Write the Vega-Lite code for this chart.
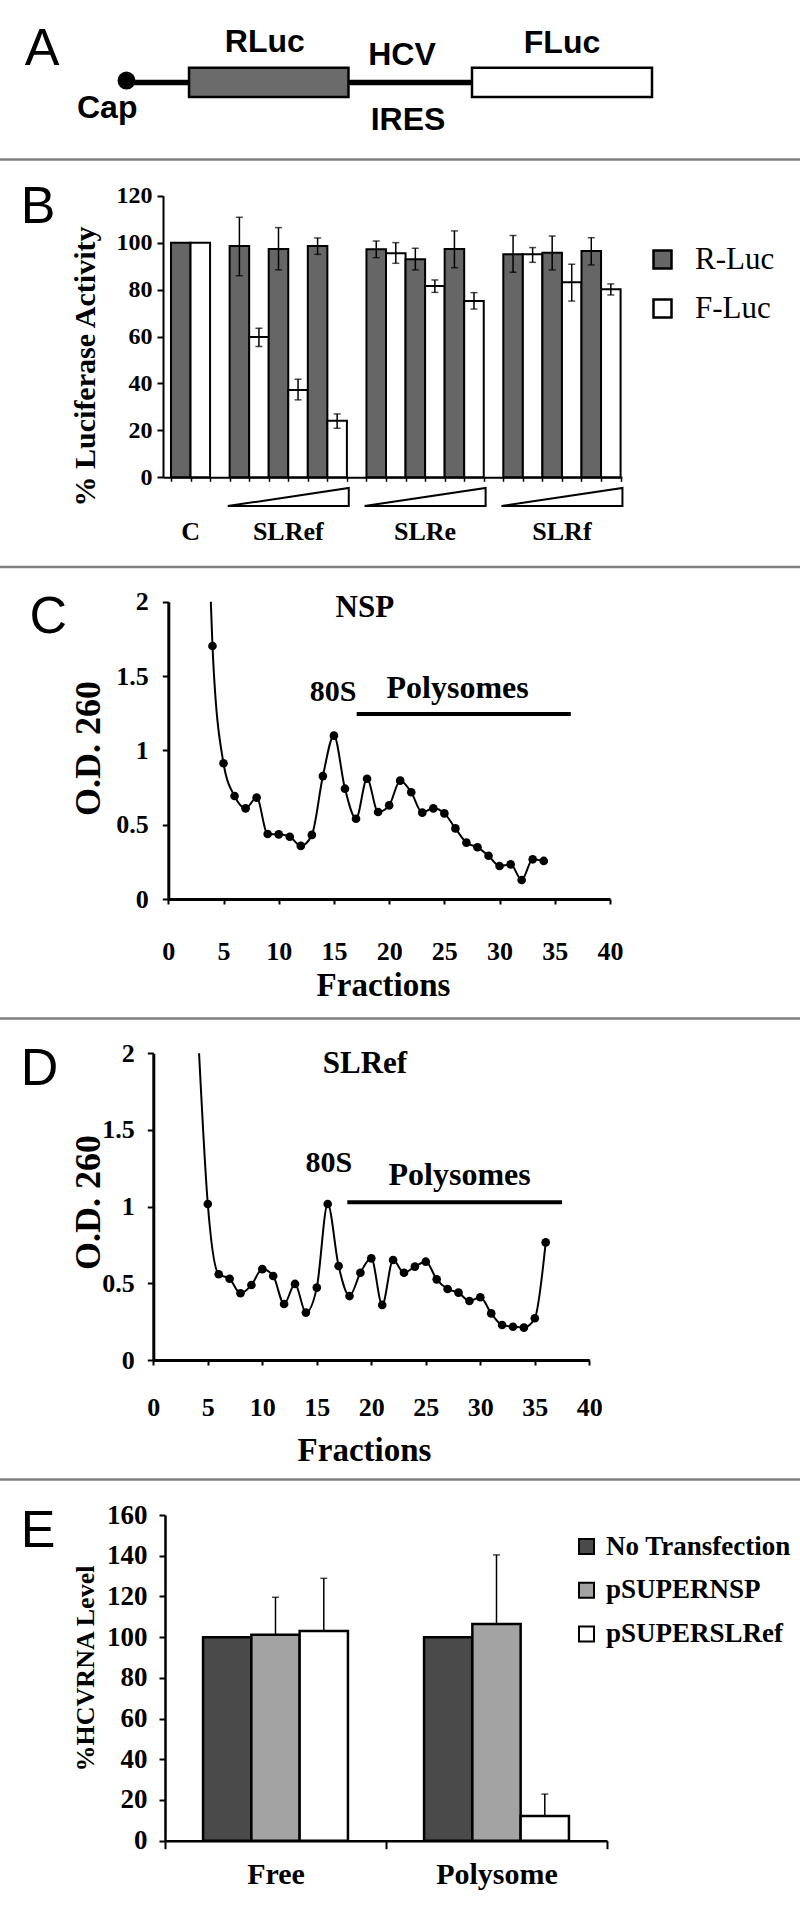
{
  "$schema": "https://vega.github.io/schema/vega-lite/v6.json",
  "width": 800,
  "height": 1918,
  "autosize": {"type": "none"},
  "padding": 0,
  "background": "white",
  "config": {
    "view": {"stroke": null},
    "axis": {"grid": false, "domainColor": "black", "tickColor": "black", "labelColor": "black", "titleColor": "black", "labelFont": "Liberation Serif", "titleFont": "Liberation Serif", "labelFontWeight": "bold", "titleFontWeight": "bold", "labelOverlap": false, "labelFlush": false},
    "legend": {"padding": 0, "offset": 0, "labelLimit": 0},
    "text": {"font": "Liberation Serif", "fontWeight": "bold", "color": "black"}
  },
  "resolve": {
    "scale": {"x": "independent", "y": "independent", "fill": "independent"},
    "axis": {"x": "independent", "y": "independent"},
    "legend": {"fill": "independent"}
  },
  "layer": [
    {
      "layer": [
        {
          "data": {"values": [{"segment": "5' cap", "start": 15.81, "end": 23.63}, {"segment": "HCV IRES", "start": 43.56, "end": 59.0}]},
          "mark": {"type": "rule", "color": "black", "strokeWidth": 5.5},
          "encoding": {
            "x": {"field": "start", "type": "quantitative", "scale": {"domain": [0, 100], "range": [0, 800]}, "axis": null},
            "x2": {"field": "end"},
            "y": {"datum": 4.3, "type": "quantitative", "scale": {"domain": [0, 100], "range": [0, 1918]}, "axis": null}
          }
        },
        {
          "data": {"values": [{"segment": "RLuc", "start": 23.63, "end": 43.56}, {"segment": "FLuc", "start": 59.0, "end": 81.5}]},
          "mark": {"type": "rect", "stroke": "black", "strokeWidth": 2.5},
          "encoding": {
            "x": {"field": "start", "type": "quantitative"},
            "x2": {"field": "end"},
            "y": {"datum": 3.53, "type": "quantitative"},
            "y2": {"datum": 5.06},
            "fill": {"field": "segment", "type": "nominal", "scale": {"domain": ["RLuc", "FLuc"], "range": ["#6b6b6b", "#ffffff"]}, "legend": null}
          }
        },
        {
          "data": {"values": [{}]},
          "mark": {"type": "point", "shape": "circle", "filled": true, "color": "black", "opacity": 1, "size": 320},
          "encoding": {"x": {"datum": 15.81, "type": "quantitative"}, "y": {"datum": 4.2, "type": "quantitative"}}
        },
        {
          "data": {"values": [{}]},
          "mark": {"type": "text", "text": "RLuc", "font": "Liberation Sans", "fontSize": 32, "fontWeight": "bold", "align": "center", "baseline": "alphabetic"},
          "encoding": {"x": {"datum": 33.1, "type": "quantitative"}, "y": {"datum": 2.711, "type": "quantitative"}}
        },
        {
          "data": {"values": [{}]},
          "mark": {"type": "text", "text": "HCV", "font": "Liberation Sans", "fontSize": 32, "fontWeight": "bold", "align": "center", "baseline": "alphabetic"},
          "encoding": {"x": {"datum": 50.25, "type": "quantitative"}, "y": {"datum": 3.389, "type": "quantitative"}}
        },
        {
          "data": {"values": [{}]},
          "mark": {"type": "text", "text": "FLuc", "font": "Liberation Sans", "fontSize": 32, "fontWeight": "bold", "align": "center", "baseline": "alphabetic"},
          "encoding": {"x": {"datum": 70.25, "type": "quantitative"}, "y": {"datum": 2.763, "type": "quantitative"}}
        },
        {
          "data": {"values": [{}]},
          "mark": {"type": "text", "text": "Cap", "font": "Liberation Sans", "fontSize": 32, "fontWeight": "bold", "align": "center", "baseline": "alphabetic"},
          "encoding": {"x": {"datum": 13.4, "type": "quantitative"}, "y": {"datum": 6.152, "type": "quantitative"}}
        },
        {
          "data": {"values": [{}]},
          "mark": {"type": "text", "text": "IRES", "font": "Liberation Sans", "fontSize": 32, "fontWeight": "bold", "align": "center", "baseline": "alphabetic"},
          "encoding": {"x": {"datum": 51.0, "type": "quantitative"}, "y": {"datum": 6.778, "type": "quantitative"}}
        },
        {
          "data": {"values": [{}]},
          "mark": {"type": "text", "text": "A", "font": "Liberation Sans", "fontSize": 52, "fontWeight": "normal", "align": "left", "baseline": "alphabetic"},
          "encoding": {"x": {"datum": 3.1, "type": "quantitative"}, "y": {"datum": 3.389, "type": "quantitative"}}
        },
        {
          "data": {"values": [{}]},
          "mark": {"type": "text", "text": "B", "font": "Liberation Sans", "fontSize": 52, "fontWeight": "normal", "align": "left", "baseline": "alphabetic"},
          "encoding": {"x": {"datum": 2.6, "type": "quantitative"}, "y": {"datum": 11.627, "type": "quantitative"}}
        },
        {
          "data": {"values": [{}]},
          "mark": {"type": "text", "text": "C", "font": "Liberation Sans", "fontSize": 52, "fontWeight": "normal", "align": "left", "baseline": "alphabetic"},
          "encoding": {"x": {"datum": 3.7, "type": "quantitative"}, "y": {"datum": 33.0, "type": "quantitative"}}
        },
        {
          "data": {"values": [{}]},
          "mark": {"type": "text", "text": "D", "font": "Liberation Sans", "fontSize": 52, "fontWeight": "normal", "align": "left", "baseline": "alphabetic"},
          "encoding": {"x": {"datum": 2.6, "type": "quantitative"}, "y": {"datum": 56.57, "type": "quantitative"}}
        },
        {
          "data": {"values": [{}]},
          "mark": {"type": "text", "text": "E", "font": "Liberation Sans", "fontSize": 52, "fontWeight": "normal", "align": "left", "baseline": "alphabetic"},
          "encoding": {"x": {"datum": 2.6, "type": "quantitative"}, "y": {"datum": 80.66, "type": "quantitative"}}
        },
        {
          "data": {"values": [{}]},
          "mark": {"type": "rule", "color": "#808080", "strokeWidth": 2.5},
          "encoding": {"x": {"datum": 0, "type": "quantitative"}, "x2": {"datum": 100}, "y": {"datum": 8.316, "type": "quantitative"}}
        },
        {
          "data": {"values": [{}]},
          "mark": {"type": "rule", "color": "#808080", "strokeWidth": 2.5},
          "encoding": {"x": {"datum": 0, "type": "quantitative"}, "x2": {"datum": 100}, "y": {"datum": 29.56, "type": "quantitative"}}
        },
        {
          "data": {"values": [{}]},
          "mark": {"type": "rule", "color": "#808080", "strokeWidth": 2.5},
          "encoding": {"x": {"datum": 0, "type": "quantitative"}, "x2": {"datum": 100}, "y": {"datum": 53.1, "type": "quantitative"}}
        },
        {
          "data": {"values": [{}]},
          "mark": {"type": "rule", "color": "#808080", "strokeWidth": 2.5},
          "encoding": {"x": {"datum": 0, "type": "quantitative"}, "x2": {"datum": 100}, "y": {"datum": 77.14, "type": "quantitative"}}
        }
      ]
    },
    {
      "data": {"values": [
        {"bar": "C R", "treatment": "C", "series": "R-Luc", "value": 100},
        {"bar": "C F", "treatment": "C", "series": "F-Luc", "value": 100},
        {"bar": "SLRef1 R", "treatment": "SLRef", "dose": 1, "series": "R-Luc", "value": 98.6, "lo": 85.9, "hi": 110.8},
        {"bar": "SLRef1 F", "treatment": "SLRef", "dose": 1, "series": "F-Luc", "value": 59.8, "lo": 55.7, "hi": 63.5},
        {"bar": "SLRef2 R", "treatment": "SLRef", "dose": 2, "series": "R-Luc", "value": 97.3, "lo": 88.4, "hi": 106.4},
        {"bar": "SLRef2 F", "treatment": "SLRef", "dose": 2, "series": "F-Luc", "value": 37.2, "lo": 33.0, "hi": 41.8},
        {"bar": "SLRef3 R", "treatment": "SLRef", "dose": 3, "series": "R-Luc", "value": 98.6, "lo": 95.0, "hi": 102.0},
        {"bar": "SLRef3 F", "treatment": "SLRef", "dose": 3, "series": "F-Luc", "value": 24.1, "lo": 20.9, "hi": 27.0},
        {"bar": "SLRe1 R", "treatment": "SLRe", "dose": 1, "series": "R-Luc", "value": 97.2, "lo": 93.6, "hi": 100.7},
        {"bar": "SLRe1 F", "treatment": "SLRe", "dose": 1, "series": "F-Luc", "value": 95.5, "lo": 91.2, "hi": 100.0},
        {"bar": "SLRe2 R", "treatment": "SLRe", "dose": 2, "series": "R-Luc", "value": 92.9, "lo": 88.4, "hi": 97.6},
        {"bar": "SLRe2 F", "treatment": "SLRe", "dose": 2, "series": "F-Luc", "value": 81.5, "lo": 78.8, "hi": 84.1},
        {"bar": "SLRe3 R", "treatment": "SLRe", "dose": 3, "series": "R-Luc", "value": 97.3, "lo": 89.3, "hi": 105.0},
        {"bar": "SLRe3 F", "treatment": "SLRe", "dose": 3, "series": "F-Luc", "value": 75.1, "lo": 71.7, "hi": 78.7},
        {"bar": "SLRf1 R", "treatment": "SLRf", "dose": 1, "series": "R-Luc", "value": 95.0, "lo": 87.4, "hi": 103.0},
        {"bar": "SLRf1 F", "treatment": "SLRf", "dose": 1, "series": "F-Luc", "value": 95.0, "lo": 91.6, "hi": 97.9},
        {"bar": "SLRf2 R", "treatment": "SLRf", "dose": 2, "series": "R-Luc", "value": 95.7, "lo": 88.4, "hi": 102.8},
        {"bar": "SLRf2 F", "treatment": "SLRf", "dose": 2, "series": "F-Luc", "value": 83.1, "lo": 75.1, "hi": 90.8},
        {"bar": "SLRf3 R", "treatment": "SLRf", "dose": 3, "series": "R-Luc", "value": 96.4, "lo": 90.5, "hi": 102.1},
        {"bar": "SLRf3 F", "treatment": "SLRf", "dose": 3, "series": "F-Luc", "value": 80.1, "lo": 77.7, "hi": 82.4}
      ]},
      "layer": [
        {
          "mark": {"type": "bar", "stroke": "black", "strokeWidth": 2},
          "encoding": {
            "x": {
              "field": "bar", "type": "nominal",
              "scale": {"type": "band", "domain": ["C R", "C F", "gap1", "SLRef1 R", "SLRef1 F", "SLRef2 R", "SLRef2 F", "SLRef3 R", "SLRef3 F", "gap2", "SLRe1 R", "SLRe1 F", "SLRe2 R", "SLRe2 F", "SLRe3 R", "SLRe3 F", "gap3", "SLRf1 R", "SLRf1 F", "SLRf2 R", "SLRf2 F", "SLRf3 R", "SLRf3 F"], "range": [163, 622], "paddingInner": 0, "paddingOuter": 0.24, "align": 0.85},
              "axis": {"orient": "bottom", "offset": -1440.7, "labels": false, "title": null, "tickBand": "extent", "tickSize": 4, "tickWidth": 1.5, "domainWidth": 2}
            },
            "y": {
              "field": "value", "type": "quantitative",
              "scale": {"domain": [0, 120], "range": [477.3, 195.7]},
              "axis": {"orient": "left", "offset": -163, "values": [0, 20, 40, 60, 80, 100, 120], "tickSize": 6, "tickWidth": 2, "domainWidth": 2, "labelFontSize": 24, "labelPadding": 5, "title": "% Luciferase Activity", "titleFontSize": 30, "titleAngle": -90, "titleX": -78, "titleY": 366, "titleAlign": "center", "titleBaseline": "middle"}
            },
            "fill": {
              "field": "series", "type": "nominal",
              "scale": {"domain": ["R-Luc", "F-Luc"], "range": ["#666666", "#ffffff"]},
              "legend": {"orient": "none", "legendX": 647, "legendY": 244, "title": null, "symbolType": "square", "symbolSize": 324, "symbolStrokeColor": "black", "symbolStrokeWidth": 2.5, "labelFont": "Liberation Serif", "labelFontSize": 31, "labelFontWeight": "normal", "labelColor": "black", "labelOffset": 17, "rowPadding": 17}
            }
          }
        },
        {
          "transform": [{"filter": "isValid(datum.hi)"}],
          "mark": {"type": "rule", "color": "black", "strokeWidth": 1.5},
          "encoding": {"x": {"field": "bar", "type": "nominal"}, "y": {"field": "lo", "type": "quantitative"}, "y2": {"field": "hi"}}
        },
        {
          "transform": [{"filter": "isValid(datum.hi)"}],
          "mark": {"type": "tick", "color": "black", "size": 7, "thickness": 1.5},
          "encoding": {"x": {"field": "bar", "type": "nominal"}, "y": {"field": "hi", "type": "quantitative"}}
        },
        {
          "transform": [{"filter": "isValid(datum.hi)"}],
          "mark": {"type": "tick", "color": "black", "size": 7, "thickness": 1.5},
          "encoding": {"x": {"field": "bar", "type": "nominal"}, "y": {"field": "lo", "type": "quantitative"}}
        },
        {
          "data": {"values": [{"group": "C", "anchor": "C R"}, {"group": "SLRef", "anchor": "SLRef2 R"}, {"group": "SLRe", "anchor": "SLRe2 R"}, {"group": "SLRf", "anchor": "SLRf2 R"}]},
          "mark": {"type": "text", "fontSize": 26, "align": "center", "baseline": "middle"},
          "encoding": {"x": {"field": "anchor", "type": "nominal", "bandPosition": 1}, "y": {"datum": -23.3, "type": "quantitative"}, "text": {"field": "group"}}
        },
        {
          "data": {"values": [{"group": "SLRef", "anchor": "SLRef2 R"}, {"group": "SLRe", "anchor": "SLRe2 R"}, {"group": "SLRf", "anchor": "SLRf2 R"}]},
          "mark": {"type": "point", "shape": "M-1,0.15L1,0.15L1,-0.15Z", "size": 14641, "filled": true, "fill": "white", "stroke": "black", "strokeWidth": 2, "opacity": 1, "strokeJoin": "miter"},
          "encoding": {"x": {"field": "anchor", "type": "nominal", "bandPosition": 1}, "y": {"datum": -8.4, "type": "quantitative"}}
        }
      ]
    },
    {
      "data": {"values": [
        {"fraction": 3.85, "od": 2.0}, {"fraction": 4, "od": 1.702}, {"fraction": 5, "od": 0.913}, {"fraction": 6, "od": 0.693},
        {"fraction": 7, "od": 0.61}, {"fraction": 8, "od": 0.682}, {"fraction": 9, "od": 0.437}, {"fraction": 10, "od": 0.435},
        {"fraction": 11, "od": 0.419}, {"fraction": 12, "od": 0.357}, {"fraction": 13, "od": 0.431}, {"fraction": 14, "od": 0.827},
        {"fraction": 15, "od": 1.099}, {"fraction": 16, "od": 0.742}, {"fraction": 17, "od": 0.54}, {"fraction": 18, "od": 0.809},
        {"fraction": 19, "od": 0.585}, {"fraction": 20, "od": 0.63}, {"fraction": 21, "od": 0.796}, {"fraction": 22, "od": 0.718},
        {"fraction": 23, "od": 0.581}, {"fraction": 24, "od": 0.61}, {"fraction": 25, "od": 0.576}, {"fraction": 26, "od": 0.475},
        {"fraction": 27, "od": 0.379}, {"fraction": 28, "od": 0.348}, {"fraction": 29, "od": 0.291}, {"fraction": 30, "od": 0.222},
        {"fraction": 31, "od": 0.233}, {"fraction": 32, "od": 0.128}, {"fraction": 33, "od": 0.267}, {"fraction": 34, "od": 0.256}
      ]},
      "layer": [
        {
          "mark": {"type": "line", "color": "black", "strokeWidth": 2, "interpolate": "monotone"},
          "encoding": {
            "x": {"field": "fraction", "type": "quantitative", "scale": {"domain": [0, 40], "range": [168.3, 610]},
                  "axis": {"orient": "bottom", "offset": -1019, "values": [0, 5, 10, 15, 20, 25, 30, 35, 40], "tickSize": 5, "tickWidth": 2, "domainWidth": 3, "labelFontSize": 26, "labelPadding": 34, "title": "Fractions", "titleFontSize": 33, "titleX": 383, "titleY": 96, "titleAlign": "center", "titleBaseline": "alphabetic", "titleAngle": 0}},
            "y": {"field": "od", "type": "quantitative", "scale": {"domain": [0, 2], "range": [899, 601.7]},
                  "axis": {"orient": "left", "offset": -168.3, "values": [0, 0.5, 1, 1.5, 2], "format": "~g", "tickSize": 6, "tickWidth": 2, "domainWidth": 3, "labelFontSize": 26, "labelPadding": 14, "title": "O.D. 260", "titleFontSize": 36, "titleAngle": -90, "titleX": -80, "titleY": 748, "titleAlign": "center", "titleBaseline": "middle"}}
          }
        },
        {
          "transform": [{"filter": "datum.od < 2"}],
          "mark": {"type": "point", "filled": true, "color": "black", "opacity": 1, "size": 75},
          "encoding": {"x": {"field": "fraction", "type": "quantitative"}, "y": {"field": "od", "type": "quantitative"}}
        },
        {
          "data": {"values": [{}]},
          "mark": {"type": "text", "text": "NSP", "fontSize": 31, "align": "center", "baseline": "alphabetic"},
          "encoding": {"x": {"datum": 17.8, "type": "quantitative"}, "y": {"datum": 1.899, "type": "quantitative"}}
        },
        {
          "data": {"values": [{}]},
          "mark": {"type": "text", "text": "80S", "fontSize": 30, "align": "center", "baseline": "alphabetic"},
          "encoding": {"x": {"datum": 14.92, "type": "quantitative"}, "y": {"datum": 1.334, "type": "quantitative"}}
        },
        {
          "data": {"values": [{}]},
          "mark": {"type": "text", "text": "Polysomes", "fontSize": 32, "align": "center", "baseline": "alphabetic"},
          "encoding": {"x": {"datum": 26.2, "type": "quantitative"}, "y": {"datum": 1.354, "type": "quantitative"}}
        },
        {
          "data": {"values": [{}]},
          "mark": {"type": "rule", "color": "black", "strokeWidth": 4},
          "encoding": {"x": {"datum": 17.06, "type": "quantitative"}, "x2": {"datum": 36.45}, "y": {"datum": 1.245, "type": "quantitative"}}
        }
      ]
    },
    {
      "data": {"values": [
        {"fraction": 4.2, "od": 2.0}, {"fraction": 5, "od": 1.017}, {"fraction": 6, "od": 0.559}, {"fraction": 7, "od": 0.53},
        {"fraction": 8, "od": 0.435}, {"fraction": 9, "od": 0.489}, {"fraction": 10, "od": 0.593}, {"fraction": 11, "od": 0.548},
        {"fraction": 12, "od": 0.365}, {"fraction": 13, "od": 0.496}, {"fraction": 14, "od": 0.309}, {"fraction": 15, "od": 0.472},
        {"fraction": 16, "od": 1.017}, {"fraction": 17, "od": 0.613}, {"fraction": 18, "od": 0.417}, {"fraction": 19, "od": 0.569},
        {"fraction": 20, "od": 0.663}, {"fraction": 21, "od": 0.359}, {"fraction": 22, "od": 0.652}, {"fraction": 23, "od": 0.569},
        {"fraction": 24, "od": 0.609}, {"fraction": 25, "od": 0.641}, {"fraction": 26, "od": 0.526}, {"fraction": 27, "od": 0.463},
        {"fraction": 28, "od": 0.439}, {"fraction": 29, "od": 0.385}, {"fraction": 30, "od": 0.409}, {"fraction": 31, "od": 0.304},
        {"fraction": 32, "od": 0.228}, {"fraction": 33, "od": 0.217}, {"fraction": 34, "od": 0.211}, {"fraction": 35, "od": 0.272},
        {"fraction": 36, "od": 0.767}
      ]},
      "layer": [
        {
          "mark": {"type": "line", "color": "black", "strokeWidth": 2, "interpolate": "monotone"},
          "encoding": {
            "x": {"field": "fraction", "type": "quantitative", "scale": {"domain": [0, 40], "range": [153.3, 589.3]},
                  "axis": {"orient": "bottom", "offset": -558, "values": [0, 5, 10, 15, 20, 25, 30, 35, 40], "tickSize": 5, "tickWidth": 2, "domainWidth": 3, "labelFontSize": 26, "labelPadding": 29, "title": "Fractions", "titleFontSize": 33, "titleX": 364, "titleY": 100, "titleAlign": "center", "titleBaseline": "alphabetic", "titleAngle": 0}},
            "y": {"field": "od", "type": "quantitative", "scale": {"domain": [0, 2], "range": [1360, 1053.3]},
                  "axis": {"orient": "left", "offset": -153.3, "values": [0, 0.5, 1, 1.5, 2], "format": "~g", "tickSize": 6, "tickWidth": 2, "domainWidth": 3, "labelFontSize": 26, "labelPadding": 13, "title": "O.D. 260", "titleFontSize": 36, "titleAngle": -90, "titleX": -65, "titleY": 1202, "titleAlign": "center", "titleBaseline": "middle"}}
          }
        },
        {
          "transform": [{"filter": "datum.od < 2"}],
          "mark": {"type": "point", "filled": true, "color": "black", "opacity": 1, "size": 75},
          "encoding": {"x": {"field": "fraction", "type": "quantitative"}, "y": {"field": "od", "type": "quantitative"}}
        },
        {
          "data": {"values": [{}]},
          "mark": {"type": "text", "text": "SLRef", "fontSize": 31, "align": "center", "baseline": "alphabetic"},
          "encoding": {"x": {"datum": 19.42, "type": "quantitative"}, "y": {"datum": 1.87, "type": "quantitative"}}
        },
        {
          "data": {"values": [{}]},
          "mark": {"type": "text", "text": "80S", "fontSize": 30, "align": "center", "baseline": "alphabetic"},
          "encoding": {"x": {"datum": 16.1, "type": "quantitative"}, "y": {"datum": 1.228, "type": "quantitative"}}
        },
        {
          "data": {"values": [{}]},
          "mark": {"type": "text", "text": "Polysomes", "fontSize": 32, "align": "center", "baseline": "alphabetic"},
          "encoding": {"x": {"datum": 28.1, "type": "quantitative"}, "y": {"datum": 1.141, "type": "quantitative"}}
        },
        {
          "data": {"values": [{}]},
          "mark": {"type": "rule", "color": "black", "strokeWidth": 4},
          "encoding": {"x": {"datum": 17.8, "type": "quantitative"}, "x2": {"datum": 37.5}, "y": {"datum": 1.028, "type": "quantitative"}}
        }
      ]
    },
    {
      "data": {"values": [
        {"fraction": "Free", "group": "No Transfection", "value": 100},
        {"fraction": "Free", "group": "pSUPERNSP", "value": 101.2, "hi": 119.6},
        {"fraction": "Free", "group": "pSUPERSLRef", "value": 103.0, "hi": 128.9},
        {"fraction": "Polysome", "group": "No Transfection", "value": 100},
        {"fraction": "Polysome", "group": "pSUPERNSP", "value": 106.5, "hi": 140.4},
        {"fraction": "Polysome", "group": "pSUPERSLRef", "value": 12.1, "hi": 22.9}
      ]},
      "layer": [
        {
          "mark": {"type": "bar", "stroke": "black", "strokeWidth": 2.5},
          "encoding": {
            "x": {"field": "fraction", "type": "nominal",
                  "scale": {"type": "band", "domain": ["Free", "Polysome"], "range": [165, 607], "paddingInner": 0, "paddingOuter": 0},
                  "axis": {"orient": "bottom", "offset": -77.3, "title": null, "tickBand": "extent", "tickSize": 8, "tickWidth": 2, "domainWidth": 2.5, "labelFontSize": 30, "labelPadding": 11, "labelAngle": 0}},
            "xOffset": {"field": "group", "type": "nominal", "scale": {"domain": ["No Transfection", "pSUPERNSP", "pSUPERSLRef"], "paddingInner": 0, "paddingOuter": 0.788}},
            "y": {"field": "value", "type": "quantitative", "scale": {"domain": [0, 160], "range": [1840.7, 1515]},
                  "axis": {"orient": "left", "offset": -165, "values": [0, 20, 40, 60, 80, 100, 120, 140, 160], "tickSize": 6, "tickWidth": 2, "domainWidth": 2.5, "labelFontSize": 27, "labelPadding": 12, "title": "%HCVRNA Level", "titleFontSize": 26, "titleAngle": -90, "titleX": -80, "titleY": 1668, "titleAlign": "center", "titleBaseline": "middle"}},
            "fill": {"field": "group", "type": "nominal",
                     "scale": {"domain": ["No Transfection", "pSUPERNSP", "pSUPERSLRef"], "range": ["#4a4a4a", "#a3a3a3", "#ffffff"]},
                     "legend": {"orient": "none", "legendX": 573, "legendY": 1533, "title": null, "symbolType": "square", "symbolSize": 225, "symbolStrokeColor": "black", "symbolStrokeWidth": 2, "labelFont": "Liberation Serif", "labelFontSize": 27, "labelFontWeight": "bold", "labelColor": "black", "labelOffset": 6, "labelLimit": 0, "rowPadding": 15.8}}
          }
        },
        {
          "transform": [{"filter": "isValid(datum.hi)"}],
          "mark": {"type": "rule", "color": "black", "strokeWidth": 1.5},
          "encoding": {"x": {"field": "fraction", "type": "nominal"}, "xOffset": {"field": "group", "type": "nominal"}, "y": {"field": "value", "type": "quantitative"}, "y2": {"field": "hi"}}
        },
        {
          "transform": [{"filter": "isValid(datum.hi)"}],
          "mark": {"type": "tick", "color": "black", "size": 7, "thickness": 1.5},
          "encoding": {"x": {"field": "fraction", "type": "nominal"}, "xOffset": {"field": "group", "type": "nominal"}, "y": {"field": "hi", "type": "quantitative"}}
        },
        {
          "transform": [{"filter": "isValid(datum.hi)"}],
          "mark": {"type": "tick", "color": "black", "size": 7, "thickness": 1.5},
          "encoding": {"x": {"field": "fraction", "type": "nominal"}, "xOffset": {"field": "group", "type": "nominal"}, "y": {"field": "value", "type": "quantitative"}}
        }
      ]
    }
  ]
}
